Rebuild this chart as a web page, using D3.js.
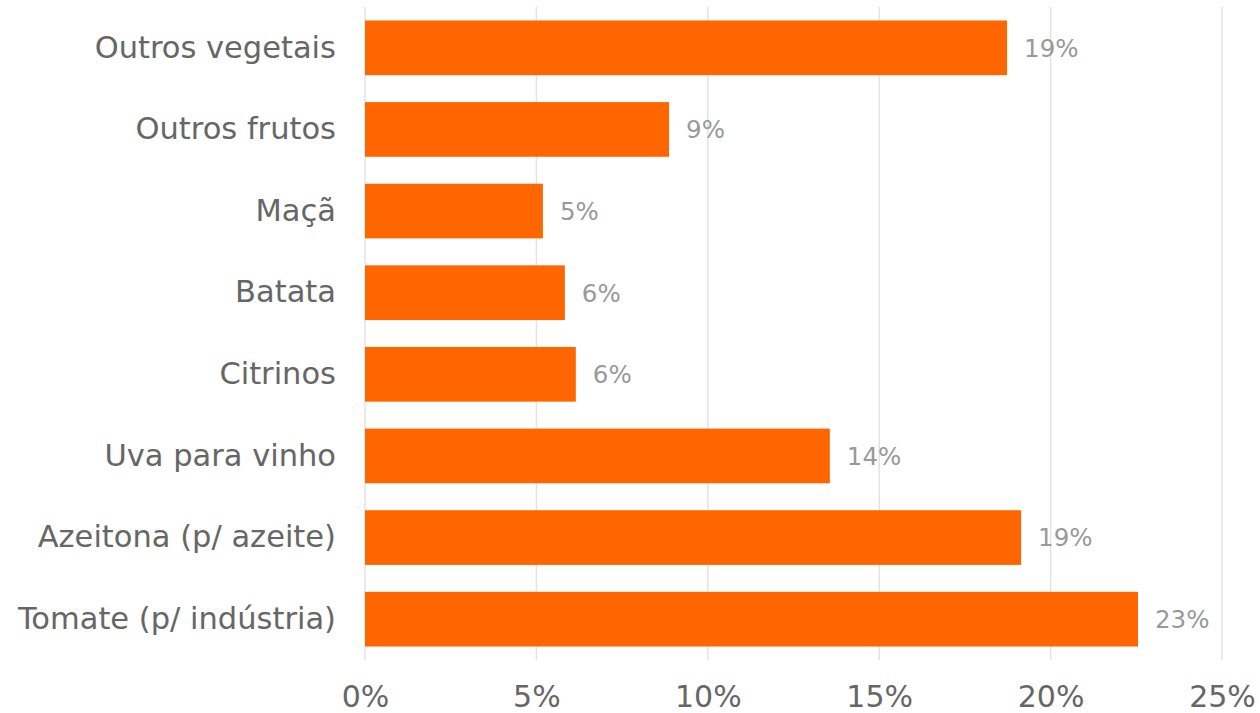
<!DOCTYPE html>
<html>
<head>
<meta charset="utf-8">
<script src="https://cdn.jsdelivr.net/npm/d3@7/dist/d3.min.js"></script>
<style>
  html, body { margin: 0; padding: 0; background: #ffffff; }
  svg { display: block; font-family: "DejaVu Sans", Verdana, sans-serif; }
</style>
</head>
<body>
<svg id="chart" width="1260" height="713"></svg>
<script>
// Categories, listed top to bottom
const categories = [
  "Outros vegetais",
  "Outros frutos",
  "Maçã",
  "Batata",
  "Citrinos",
  "Uva para vinho",
  "Azeitona (p/ azeite)",
  "Tomate (p/ indústria)"
];
// Share of each crop (fraction)
const shares = [0.1873, 0.0887, 0.0519, 0.0583, 0.0615, 0.1356, 0.1914, 0.2255];
// X axis ticks
const xTicks = [0, 0.05, 0.10, 0.15, 0.20, 0.25];

const data = categories.map((c, i) => ({ name: c, value: shares[i] }));

const svg = d3.select("#chart");
const margin = { top: 7, right: 38, bottom: 53, left: 365 };
const width = 1260 - margin.left - margin.right;
const height = 713 - margin.top - margin.bottom;

const g = svg.append("g").attr("transform", `translate(${margin.left},${margin.top})`);

const x = d3.scaleLinear().domain([0, 0.25]).range([0, width]);
const y = d3.scaleBand().domain(categories).range([0, height])
  .paddingInner(0.33).paddingOuter(0.165);

// Vertical gridlines
g.append("g")
  .selectAll("line")
  .data(xTicks)
  .join("line")
  .attr("x1", d => x(d)).attr("x2", d => x(d))
  .attr("y1", 0).attr("y2", height)
  .attr("stroke", "#e3e3e3")
  .attr("stroke-width", 1.5);

// X axis tick labels
const xAxis = d3.axisBottom(x).tickValues(xTicks).tickFormat(d3.format(".0%")).tickSize(0).tickPadding(0);
const xg = g.append("g").attr("transform", `translate(0,${height})`).call(xAxis);
xg.select(".domain").remove();
xg.selectAll("text")
  .attr("y", 0)
  .attr("dy", "1.58em")
  .attr("fill", "#666666")
  .style("font-size", "30px")
  .style("font-family", "'DejaVu Sans', Verdana, sans-serif");

// Y axis category labels
const yAxis = d3.axisLeft(y).tickSize(0).tickPadding(29);
const yg = g.append("g").call(yAxis);
yg.select(".domain").remove();
yg.selectAll("text")
  .attr("fill", "#666666")
  .style("font-size", "30.5px")
  .style("font-family", "'DejaVu Sans', Verdana, sans-serif");

// Bars
g.append("g")
  .selectAll("rect")
  .data(data)
  .join("rect")
  .attr("x", x(0))
  .attr("y", d => y(d.name))
  .attr("width", d => x(d.value) - x(0))
  .attr("height", y.bandwidth())
  .attr("fill", "#ff6600");

// Value labels
g.append("g")
  .selectAll("text")
  .data(data)
  .join("text")
  .attr("x", d => x(d.value) + 17)
  .attr("y", d => y(d.name) + y.bandwidth() / 2)
  .attr("dy", "0.36em")
  .attr("fill", "#999999")
  .style("font-size", "24.5px")
  .text(d => d3.format(".0%")(d.value));
</script>
</body>
</html>
